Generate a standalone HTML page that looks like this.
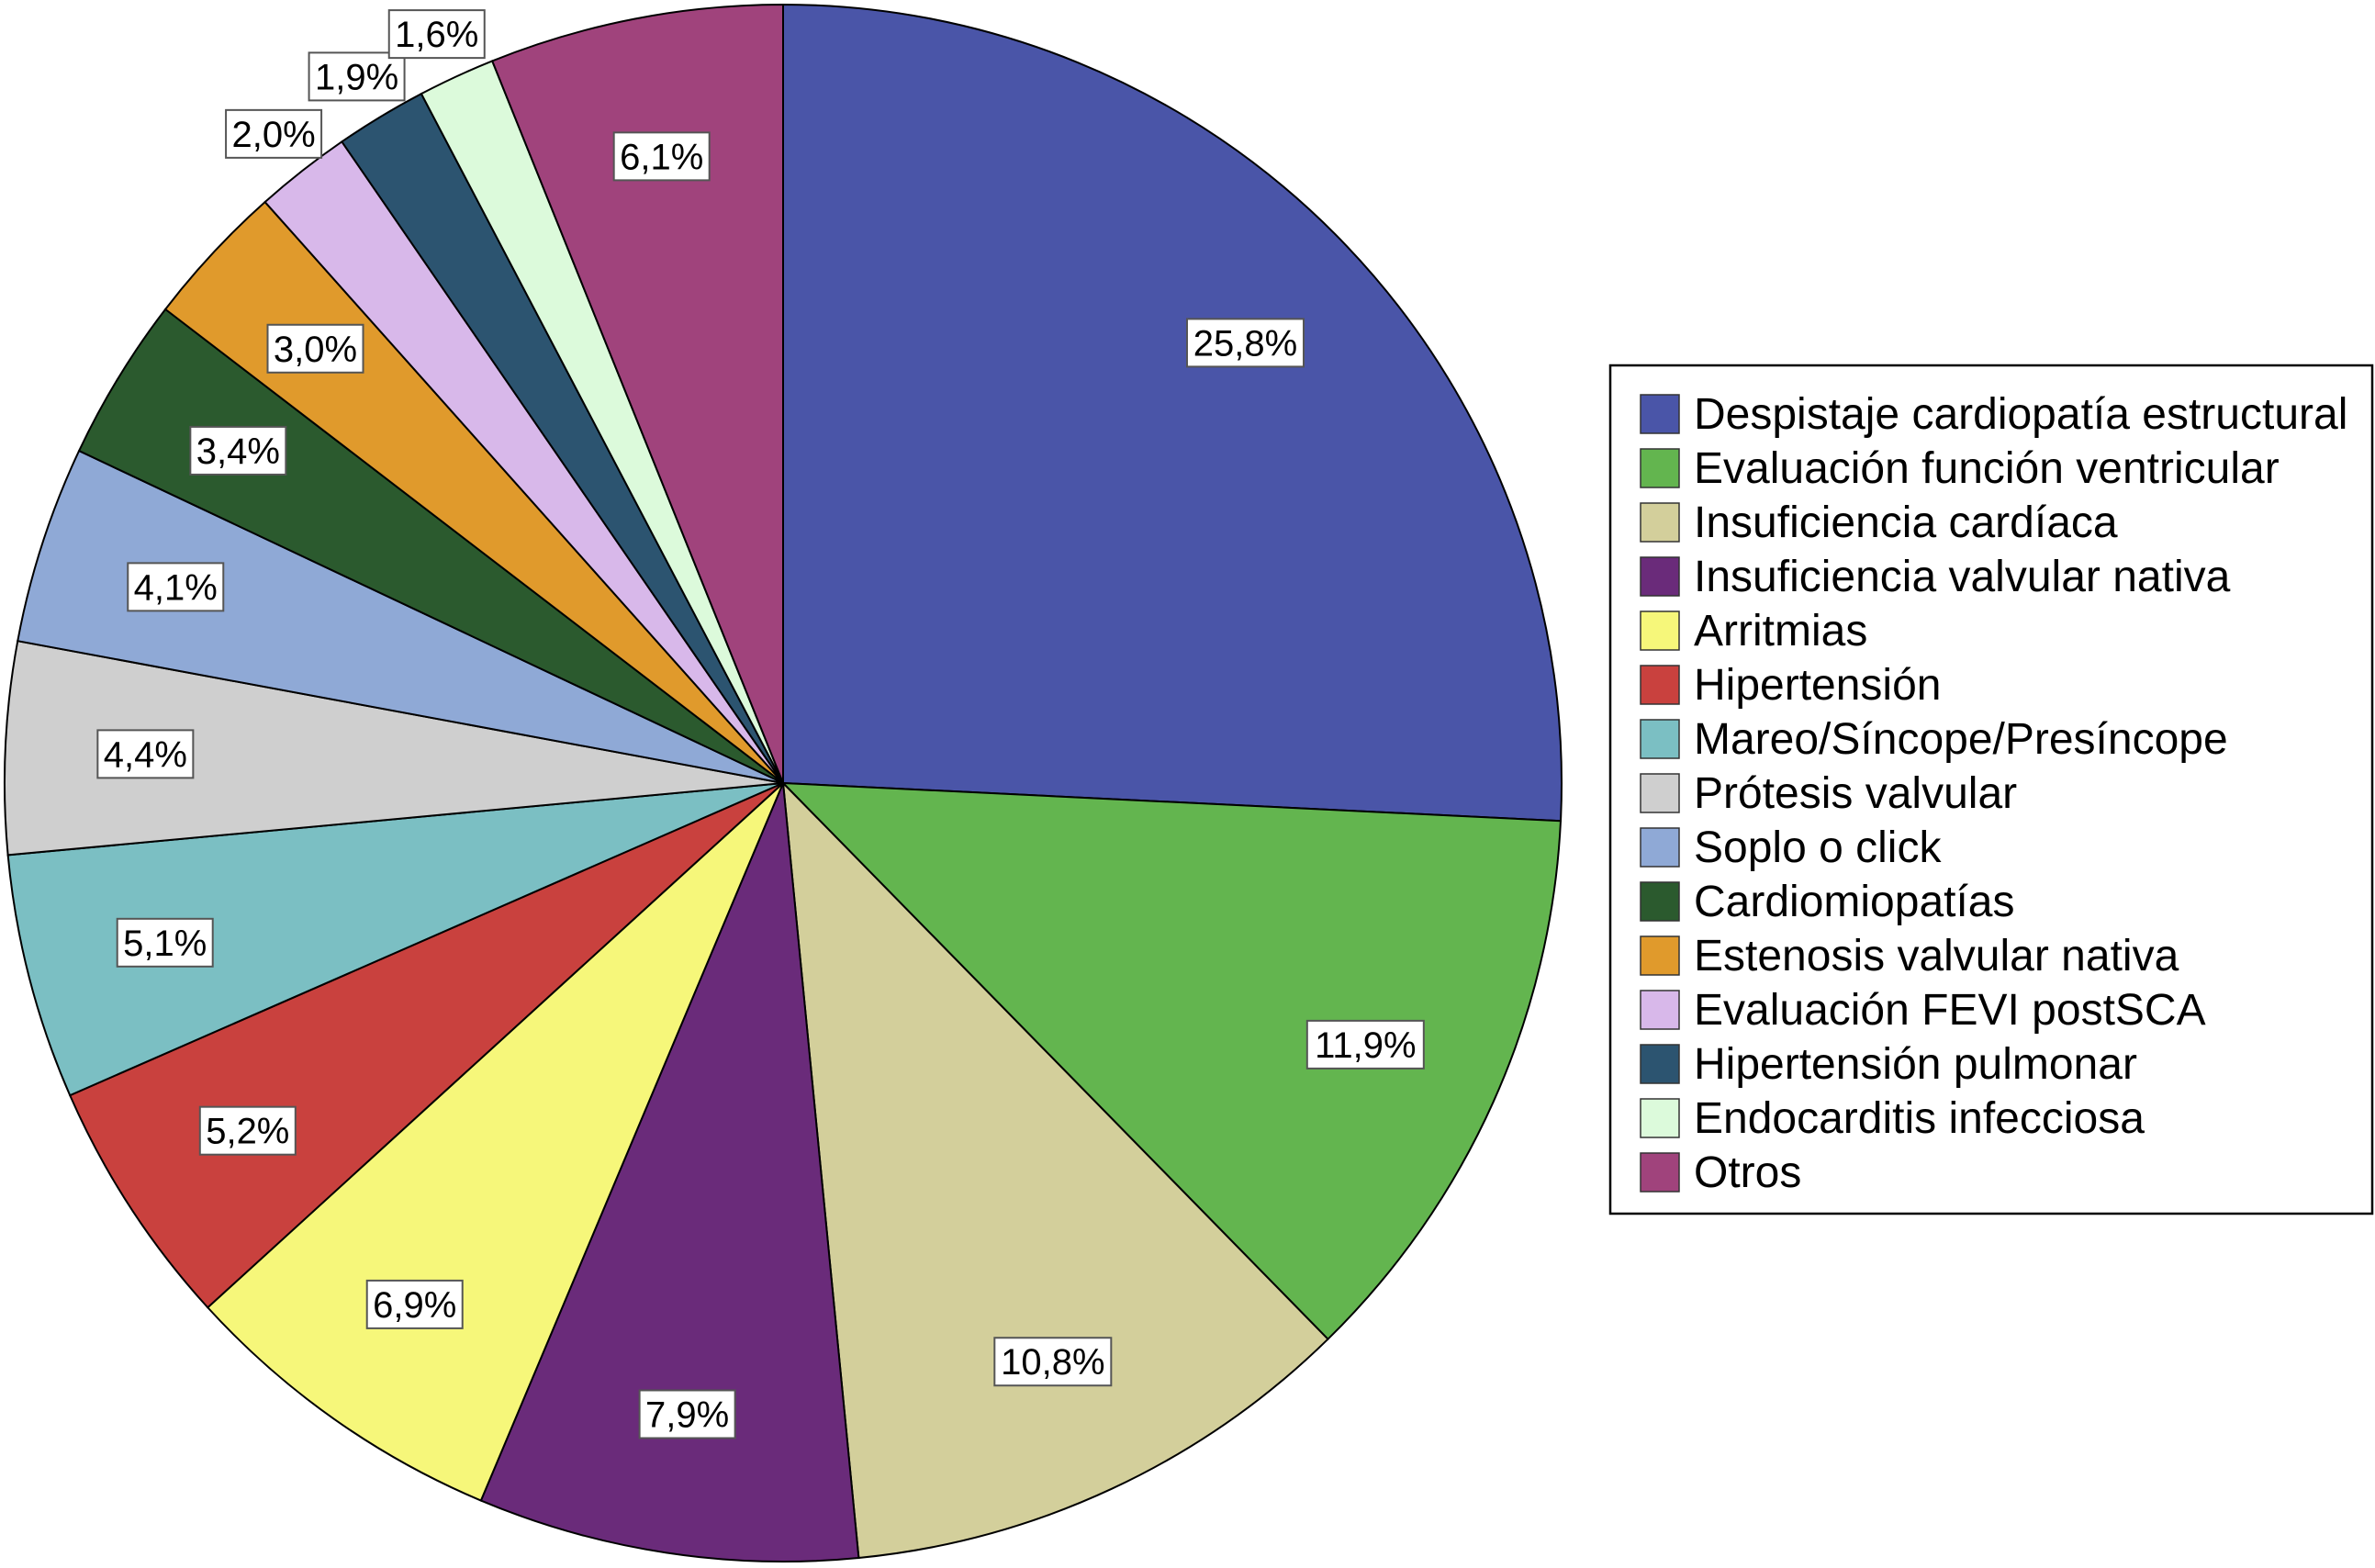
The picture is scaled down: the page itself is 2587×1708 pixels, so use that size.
<!DOCTYPE html>
<html><head><meta charset="utf-8"><style>
html,body{margin:0;padding:0;background:#fff;}
svg{display:block;font-family:"Liberation Sans",Arial,sans-serif;}
</style></head><body>
<svg id="chart" width="2587" height="1708" viewBox="0 0 2587 1708" xmlns="http://www.w3.org/2000/svg"></svg>
<script>
const categories = ["Despistaje cardiopatía estructural","Evaluación función ventricular","Insuficiencia cardíaca","Insuficiencia valvular nativa","Arritmias","Hipertensión","Mareo/Síncope/Presíncope","Prótesis valvular","Soplo o click","Cardiomiopatías","Estenosis valvular nativa","Evaluación FEVI postSCA","Hipertensión pulmonar","Endocarditis infecciosa","Otros"];
const values = [25.8,11.9,10.8,7.9,6.9,5.2,5.1,4.4,4.1,3.4,3.0,2.0,1.9,1.6,6.1];
const valueLabels = ["25,8%","11,9%","10,8%","7,9%","6,9%","5,2%","5,1%","4,4%","4,1%","3,4%","3,0%","2,0%","1,9%","1,6%","6,1%"];
const colors = ["#4a55a8","#63b54f","#d3cf9b","#6a2b7a","#f6f77a","#c9413e","#7bbfc3","#cfcfcf","#8fa9d6","#2b5a2e","#e09a2c","#d8b8ea","#2c5470","#dcfadb","#a0437c"];

const NS="http://www.w3.org/2000/svg";
const svg=document.getElementById('chart');
const cx=853, cy=853, R=848;
const total=values.reduce((a,b)=>a+b,0);
function pt(frac,r){const a=frac*2*Math.PI;return [cx+Math.sin(a)*r, cy-Math.cos(a)*r];}
const gSlices=document.createElementNS(NS,'g');


svg.appendChild(gSlices);
const gLabels=document.createElementNS(NS,'g');


svg.appendChild(gLabels);
let cum=0;
values.forEach((v,i)=>{
  const f0=cum/total, f1=(cum+v)/total; cum+=v;
  const [x0,y0]=pt(f0,R),[x1,y1]=pt(f1,R);
  const large=(f1-f0)>0.5?1:0;
  const p=document.createElementNS(NS,'path');
  p.setAttribute('d',`M${cx},${cy}L${x0},${y0}A${R},${R} 0 ${large} 1 ${x1},${y1}Z`);
  p.setAttribute('fill',colors[i]);p.setAttribute('stroke','#000');p.setAttribute('stroke-width','2');
  
  
  gSlices.appendChild(p);
  const fm=(f0+f1)/2;
  const rr = v<2.5 ? R*1.06 : R*0.82;
  const [lx,ly]=pt(fm,rr);
  const w=valueLabels[i].length*23+12, h=52;
  const g=document.createElementNS(NS,'g');
  
  
  const rect=document.createElementNS(NS,'rect');
  rect.setAttribute('x',lx-w/2);rect.setAttribute('y',ly-h/2);rect.setAttribute('width',w);rect.setAttribute('height',h);
  rect.setAttribute('fill','#fff');rect.setAttribute('stroke','#555');rect.setAttribute('stroke-width','2');
  g.appendChild(rect);
  const t=document.createElementNS(NS,'text');
  t.setAttribute('x',lx);t.setAttribute('y',ly+14);t.setAttribute('text-anchor','middle');t.setAttribute('font-size','40');
  t.textContent=valueLabels[i];
  g.appendChild(t);
  gLabels.appendChild(g);
});
const lg=document.createElementNS(NS,'g');


svg.appendChild(lg);
const box=document.createElementNS(NS,'rect');
box.setAttribute('x',1754);box.setAttribute('y',398);box.setAttribute('width',830);box.setAttribute('height',924);
box.setAttribute('fill','#fff');box.setAttribute('stroke','#000');box.setAttribute('stroke-width','2.5');
lg.appendChild(box);
categories.forEach((c,i)=>{
  const yc=451+i*59;
  const e=document.createElementNS(NS,'g');
  
  
  const s=document.createElementNS(NS,'rect');
  s.setAttribute('x',1787);s.setAttribute('y',yc-21);s.setAttribute('width',42);s.setAttribute('height',42);
  s.setAttribute('fill',colors[i]);s.setAttribute('stroke','#333');s.setAttribute('stroke-width','1.5');
  e.appendChild(s);
  const t=document.createElementNS(NS,'text');
  t.setAttribute('x',1845);t.setAttribute('y',yc+16);t.setAttribute('font-size','48');
  t.textContent=c;
  e.appendChild(t);
  lg.appendChild(e);
});
</script>
</body></html>
